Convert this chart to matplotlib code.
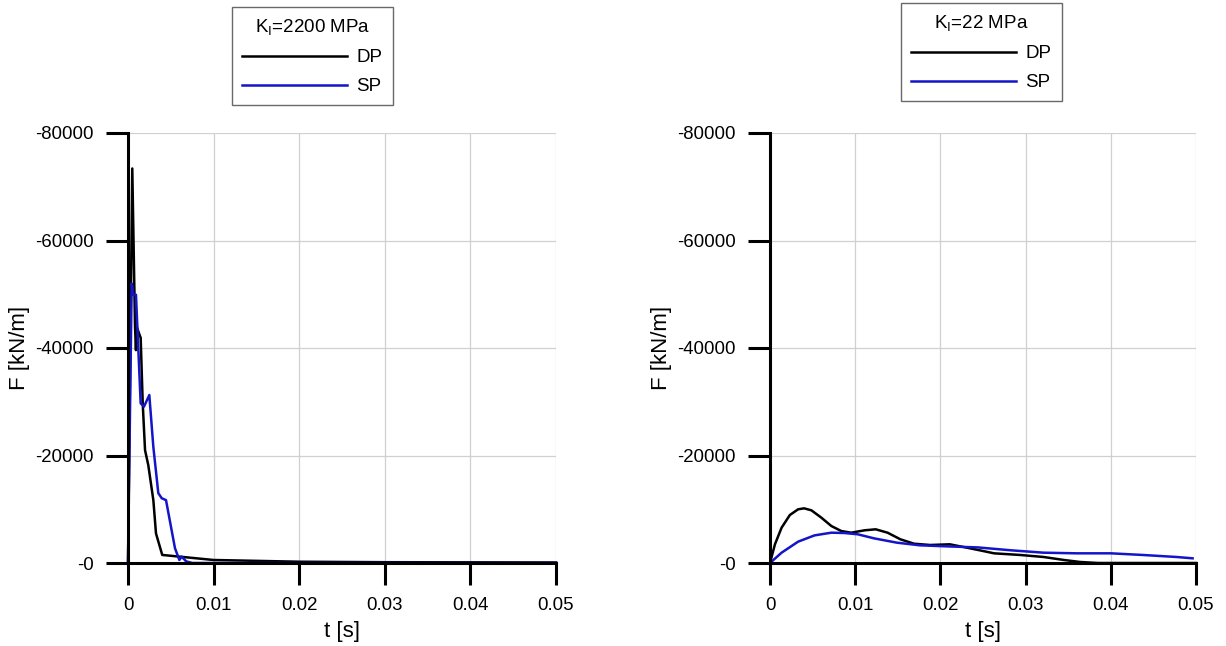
import matplotlib.pyplot as plt

plt.rcParams['font.family'] = ['Liberation Sans', 'DejaVu Sans']
plt.rcParams['mathtext.fontset'] = 'custom'
plt.rcParams['mathtext.rm'] = 'Liberation Sans'

# left panel, K_I = 2200 MPa
t_dp_hi = [0, 0.0005, 0.00082, 0.00093, 0.00100, 0.00148, 0.00172, 0.00199, 0.00237,
           0.00296, 0.00327, 0.0040, 0.0061, 0.0100, 0.0200, 0.0300, 0.0500]
f_dp_hi = [0, -73400, -44000, -39600, -44000, -41900, -29700, -21000, -18200,
           -11700, -5500, -1500, -1170, -560, -240, -150, -100]
t_sp_hi = [0, 0.00043, 0.00060, 0.00093, 0.00148, 0.00187, 0.00249, 0.00296, 0.00354,
           0.00394, 0.00444, 0.00549, 0.0060, 0.00627, 0.0068, 0.0075, 0.05]
f_sp_hi = [0, -52000, -50000, -49900, -29700, -29100, -31250, -21600, -13000,
           -12050, -11700, -2740, -560, -1180, -300, 0, 0]

# right panel, K_I = 22 MPa
t_dp_lo = [0, 0.00058, 0.00136, 0.00233, 0.0033, 0.0040, 0.00486, 0.00603, 0.0072,
           0.00836, 0.00953, 0.0111, 0.0124, 0.0138, 0.0153, 0.0169, 0.0188, 0.0211,
           0.0231, 0.0248, 0.0263, 0.0294, 0.0321, 0.0345, 0.0364, 0.0385, 0.05]
f_dp_lo = [0, -3480, -6570, -8930, -9990, -10170, -9800, -8430, -6880,
           -5950, -5640, -6080, -6270, -5640, -4410, -3590, -3350, -3480,
           -2850, -2300, -1800, -1490, -1120, -560, -190, 0, 0]
t_sp_lo = [0, 0.00136, 0.0033, 0.00523, 0.0072, 0.00872, 0.0103, 0.0122, 0.0149,
           0.0176, 0.0207, 0.0244, 0.0283, 0.0321, 0.0360, 0.0400, 0.0438, 0.0477, 0.0496]
f_sp_lo = [0, -1920, -3970, -5140, -5640, -5580, -5340, -4590, -3780,
           -3290, -3100, -2900, -2360, -1920, -1800, -1800, -1490, -1120, -870]

x_ticks = [0, 0.01, 0.02, 0.03, 0.04, 0.05]
x_labels = ['0', '0.01', '0.02', '0.03', '0.04', '0.05']
y_ticks = [0, -20000, -40000, -60000, -80000]
y_labels = ['-0', '-20000', '-40000', '-60000', '-80000']

BLUE = '#1414c8'
W, H = 1226, 646

fig = plt.figure(figsize=(W / 100, H / 100), dpi=100)

panels = [
    (128, 428, 232, 7, r'K$_\mathregular{I}$=2200 MPa', t_dp_hi, f_dp_hi, t_sp_hi, f_sp_hi),
    (770, 426, 901, 3, r'K$_\mathregular{I}$=22 MPa', t_dp_lo, f_dp_lo, t_sp_lo, f_sp_lo),
]

for left, width, leg_x, leg_y, title, tdp, fdp, tsp, fsp in panels:
    ax = fig.add_axes([left / W, (H - 563) / H, width / W, 430 / H])
    ax.plot(tdp, fdp, color='black', lw=1.8, label='DP', clip_on=False, zorder=3)
    ax.plot(tsp, fsp, color=BLUE, lw=1.8, label='SP', clip_on=False, zorder=3)

    ax.set_xlim(0, 0.05)
    ax.set_ylim(0, -80000)
    ax.set_xticks(x_ticks)
    ax.set_xticklabels(x_labels)
    ax.set_yticks(y_ticks)
    ax.set_yticklabels(y_labels)
    ax.tick_params(direction='out', length=16, width=2.2, labelsize=13.4, pad=8.5)
    ax.grid(True, color='#d0d0d0', lw=0.9)
    ax.set_axisbelow(True)
    for s in ('top', 'right'):
        ax.spines[s].set_visible(False)
    for s in ('left', 'bottom'):
        ax.spines[s].set_linewidth(2.2)
        ax.spines[s].set_zorder(4)

    ax.set_xlabel('t [s]', fontsize=16, labelpad=5)
    ax.set_ylabel('F [kN/m]', fontsize=16, labelpad=4)

    leg = ax.legend(loc='upper left', bbox_to_anchor=(leg_x / W, 1 - leg_y / H),
                    bbox_transform=fig.transFigure, title=title, fontsize=13.5,
                    title_fontsize=13.5, frameon=True, fancybox=False,
                    edgecolor='#444444', handlelength=5.6, handletextpad=0.48,
                    borderpad=0.55, labelspacing=0.62, borderaxespad=0,
                    alignment='center')
    leg.get_frame().set_linewidth(1.0)
    for ln in leg.get_lines():
        ln.set_linewidth(1.8)

fig.savefig('out.png', dpi=100)
